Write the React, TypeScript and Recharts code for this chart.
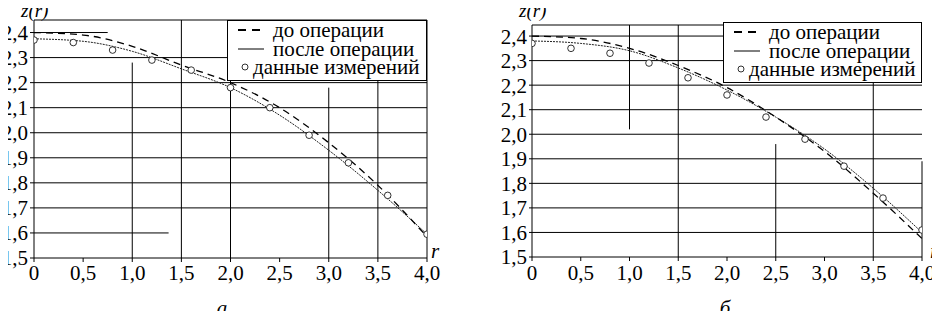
import {
  ComposedChart,
  Line,
  Scatter,
  XAxis,
  YAxis,
  ReferenceLine,
} from "recharts";

// radial coordinate r and profile z(r)
const rTicks = [0, 0.5, 1.0, 1.5, 2.0, 2.5, 3.0, 3.5, 4.0];
const zTicks = [1.5, 1.6, 1.7, 1.8, 1.9, 2.0, 2.1, 2.2, 2.3, 2.4];

const rCurve = [0, 0.5, 1.0, 1.5, 2.0, 2.5, 3.0, 3.5, 4.0];
const rMeasured = [0, 0.4, 0.8, 1.2, 1.6, 2.0, 2.4, 2.8, 3.2, 3.6, 4.0];

// panel "а"
const beforeA = [2.4, 2.39, 2.345, 2.27, 2.2, 2.1, 1.96, 1.79, 1.585];
const afterA = [2.375, 2.365, 2.325, 2.255, 2.18, 2.07, 1.93, 1.77, 1.595];
const measuredA = [2.37, 2.36, 2.33, 2.29, 2.25, 2.18, 2.1, 1.99, 1.88, 1.75, 1.595];

// panel "б"
const beforeB = [2.4, 2.39, 2.35, 2.28, 2.19, 2.07, 1.93, 1.76, 1.575];
const afterB = [2.38, 2.37, 2.34, 2.27, 2.18, 2.07, 1.94, 1.78, 1.6];
const measuredB = [2.37, 2.35, 2.33, 2.29, 2.23, 2.16, 2.07, 1.98, 1.87, 1.74, 1.61];

const legendLabels = ["до операции", "после операции", "данные измерений"];

// grid pieces as they survive in the scan (data units)
const vGridA = [
  { r: 1.0, from: 1.5, to: 2.28 },
  { r: 1.5, from: 1.5, to: 2.45 },
  { r: 2.0, from: 1.5, to: 2.45 },
  { r: 3.0, from: 1.5, to: 2.18 },
  { r: 3.5, from: 1.5, to: 2.45 },
  { r: 4.0, from: 1.5, to: 2.45 },
];
const hGridA = [
  { z: 2.45, from: 0, to: 4 },
  { z: 2.4, from: 0, to: 0.75 },
  { z: 2.3, from: 0, to: 4 },
  { z: 2.2, from: 0, to: 4 },
  { z: 2.1, from: 0, to: 4 },
  { z: 2.0, from: 0, to: 4 },
  { z: 1.9, from: 0, to: 4 },
  { z: 1.8, from: 0, to: 4 },
  { z: 1.7, from: 0, to: 4 },
  { z: 1.6, from: 0, to: 1.37 },
];
const vGridB = [
  { r: 1.0, from: 2.02, to: 2.445 },
  { r: 1.5, from: 1.5, to: 2.445 },
  { r: 2.5, from: 1.5, to: 1.96 },
  { r: 3.5, from: 1.5, to: 2.445 },
  { r: 4.0, from: 1.5, to: 1.89 },
];
const hGridB = [
  { z: 2.445, from: 0, to: 4 },
  { z: 2.4, from: 0, to: 4 },
  { z: 2.3, from: 0, to: 4 },
  { z: 2.2, from: 0, to: 4 },
  { z: 2.1, from: 0, to: 4 },
  { z: 2.0, from: 0, to: 4 },
  { z: 1.9, from: 0, to: 4 },
  { z: 1.8, from: 0, to: 4 },
  { z: 1.7, from: 0, to: 4 },
  { z: 1.6, from: 0, to: 4 },
];

const FONT = "Liberation Serif, serif";

const fmt = (v: number) => (v === 0 ? "0" : v.toFixed(1).replace(".", ","));

const toPoints = (rs: number[], zs: number[]) => rs.map((r, i) => ({ r, z: zs[i] }));

function LegendBox({ left, top, width }: { left: number; top: number; width: number }) {
  const row: React.CSSProperties = {
    display: "flex",
    alignItems: "center",
    height: 18.5,
    whiteSpace: "nowrap",
  };
  return (
    <div
      style={{
        position: "absolute",
        left,
        top,
        width,
        border: "1px solid #000",
        background: "#fff",
        padding: "0 0 3.5px 10px",
        fontFamily: FONT,
        fontSize: 21,
        lineHeight: "18.5px",
        color: "#000",
        boxSizing: "border-box",
      }}
    >
      <div style={row}>
        <svg width={26} height={6} style={{ marginRight: 9 }}>
          <line x1={0} y1={3} x2={26} y2={3} stroke="#000" strokeWidth={2} strokeDasharray="8 6" />
        </svg>
        {legendLabels[0]}
      </div>
      <div style={row}>
        <svg width={26} height={6} style={{ marginRight: 9 }}>
          <line x1={0} y1={3} x2={26} y2={3} stroke="#000" strokeWidth={1} />
        </svg>
        {legendLabels[1]}
      </div>
      <div style={row}>
        <svg width={10} height={10} style={{ marginLeft: 2, marginRight: 3 }}>
          <circle cx={5} cy={5} r={3} fill="#fff" stroke="#000" strokeWidth={0.8} />
        </svg>
        {legendLabels[2]}
      </div>
    </div>
  );
}

interface PanelProps {
  x: number;
  before: number[];
  after: number[];
  measured: number[];
  vGrid: { r: number; from: number; to: number }[];
  hGrid: { z: number; from: number; to: number }[];
  zMax: number;
  top: number;
  right: number;
  yWidth: number;
  xHeight: number;
  yTick: number;
  yMargin: number;
  xMargin: number;
  legend: { left: number; top: number; width: number };
  caption: string;
  captionX: number;
  zLabelX: number;
  rLabelX: number;
}

function Panel(p: PanelProps) {
  const beforeData = toPoints(rCurve, p.before);
  const afterData = toPoints(rCurve, p.after);
  const measData = toPoints(rMeasured, p.measured);
  const text: React.CSSProperties = {
    position: "absolute",
    fontFamily: FONT,
    fontStyle: "italic",
    fontSize: 21,
    lineHeight: "normal",
    color: "#000",
    whiteSpace: "nowrap",
  };
  return (
    <div style={{ position: "absolute", left: p.x, top: 0, width: 470, height: 319 }}>
      <ComposedChart
        width={470}
        height={319}
        margin={{ top: p.top, right: p.right, bottom: 0, left: 0 }}
      >
        <XAxis
          dataKey="r"
          type="number"
          domain={[0, 4]}
          ticks={rTicks}
          interval={0}
          tickFormatter={fmt}
          height={p.xHeight}
          tickSize={4}
          tickMargin={p.xMargin}
          axisLine={{ stroke: "#000" }}
          tickLine={{ stroke: "#000" }}
          tick={{ fill: "#000", fontSize: 21, fontFamily: FONT }}
          allowDataOverflow
        />
        <YAxis
          type="number"
          domain={[1.5, p.zMax]}
          ticks={zTicks}
          interval={0}
          tickFormatter={fmt}
          width={p.yWidth}
          tickSize={p.yTick}
          tickMargin={p.yMargin}
          axisLine={{ stroke: "#000" }}
          tickLine={{ stroke: "#000" }}
          tick={{ fill: "#000", fontSize: 21, fontFamily: FONT }}
          allowDataOverflow
        />
        {p.hGrid.map((g) => (
          <ReferenceLine
            key={"h" + g.z}
            segment={[
              { x: g.from, y: g.z },
              { x: g.to, y: g.z },
            ]}
            stroke="#000"
            strokeWidth={1}
            ifOverflow="visible"
          />
        ))}
        {p.vGrid.map((g) => (
          <ReferenceLine
            key={"v" + g.r}
            segment={[
              { x: g.r, y: g.from },
              { x: g.r, y: g.to },
            ]}
            stroke="#000"
            strokeWidth={1}
            ifOverflow="visible"
          />
        ))}
        <Line
          data={afterData}
          dataKey="z"
          type="monotone"
          stroke="#222"
          strokeWidth={1}
          strokeDasharray="2 1"
          dot={false}
          activeDot={false}
          isAnimationActive={false}
        />
        <Line
          data={beforeData}
          dataKey="z"
          type="monotone"
          stroke="#000"
          strokeWidth={1.3}
          strokeDasharray="7 5"
          dot={false}
          activeDot={false}
          isAnimationActive={false}
        />
        <Scatter
          data={measData}
          dataKey="z"
          isAnimationActive={false}
          shape={(s: any) => (
            <circle cx={s.cx} cy={s.cy} r={3.3} fill="#fff" stroke="#000" strokeWidth={0.8} />
          )}
        />
      </ComposedChart>
      <LegendBox {...p.legend} />
      <div style={{ ...text, fontSize: 19, left: p.zLabelX, top: 0 }}>z(r)</div>
      <div style={{ ...text, left: p.rLabelX, top: 239 }}>r</div>
      <div style={{ ...text, left: p.captionX, top: 295.5, transform: "translateX(-50%)" }}>
        {p.caption}
      </div>
    </div>
  );
}

export default function App() {
  return (
    <div
      style={{
        position: "relative",
        width: 940,
        height: 319,
        margin: -8,
        background: "#fff",
        overflow: "hidden",
      }}
    >
      <Panel
        x={0}
        before={beforeA}
        after={afterA}
        measured={measuredA}
        vGrid={vGridA}
        hGrid={hGridA}
        zMax={2.45}
        top={20}
        right={43}
        yWidth={34}
        xHeight={61}
        yTick={4}
        yMargin={2}
        xMargin={3}
        legend={{ left: 227, top: 20, width: 200 }}
        caption="а"
        captionX={222}
        zLabelX={21}
        rLabelX={431}
      />
      <Panel
        x={470}
        before={beforeB}
        after={afterB}
        measured={measuredB}
        vGrid={vGridB}
        hGrid={hGridB}
        zMax={2.445}
        top={25}
        right={18}
        yWidth={62}
        xHeight={62}
        yTick={3}
        yMargin={2}
        xMargin={4}
        legend={{ left: 253, top: 22, width: 199 }}
        caption="б"
        captionX={255}
        zLabelX={49}
        rLabelX={460}
      />
    </div>
  );
}
